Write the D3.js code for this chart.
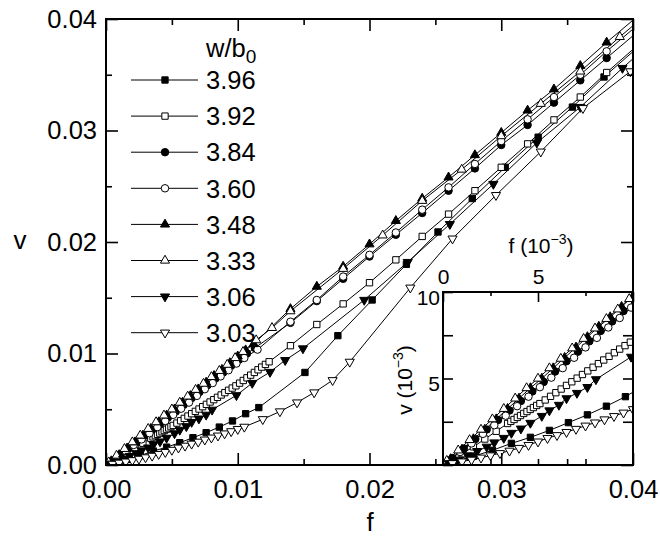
<!DOCTYPE html>
<html><head><meta charset="utf-8">
<script src="https://cdn.jsdelivr.net/npm/d3@7"></script>
<style>
body{margin:0;background:#fff}
text{font-family:"Liberation Sans",Arial,Helvetica,sans-serif;fill:#000}
</style>
</head><body>
<svg id="c" width="660" height="540"></svg>
<script>
// ---- data (f and v in units of 1e-3) ----
const legendTitle = "w/b";
const seriesNames = ["3.96","3.92","3.84","3.60","3.48","3.33","3.06","3.03"];

const f396 = [0.6,1.6,2.6,3.6,4.6,5.6,6.6,7.6,8.6,9.6,10.6,11.6,15.1,17.6,20.2,22.8,25.2,27.8,30.3,32.8,35.4,37.8,40.6];
const v396 = [0.2,0.5,0.85,1.25,1.6,2.0,2.45,2.9,3.4,3.95,4.6,5.15,8.3,11.6,14.8,18.0,20.9,23.9,26.7,29.4,32.1,34.8,37.7];

const f392 = [1.0,1.6,2.2,2.8,3.4,3.57,3.74,3.91,4.08,4.25,4.42,4.59,4.76,4.93,5.1,5.38,5.66,5.94,6.22,6.5,6.78,7.06,7.34,7.62,7.9,8.18,8.46,8.74,9.02,9.3,9.58,9.86,10.14,10.42,10.7,10.98,11.26,11.54,11.82,12.1,12.38,14,16,18,20,22,24,26,28,30,32,34,36,38,40.5];
const v392 = [0.65,1.05,1.5,1.95,2.4,2.52,2.63,2.75,2.86,2.98,3.09,3.21,3.32,3.44,3.55,3.76,3.97,4.18,4.39,4.6,4.81,5.02,5.23,5.44,5.65,5.86,6.07,6.28,6.49,6.7,6.9,7.1,7.34,7.58,7.82,8.06,8.3,8.54,8.78,9.02,9.26,10.7,12.6,14.45,16.35,18.4,20.5,22.5,24.6,26.7,28.8,30.95,33.0,35.2,37.8];

const f384 = [0.5,1.1,1.7,2.3,2.9,3.5,4.1,4.7,5.3,5.9,6.5,7.1,7.7,8.3,8.9,9.5,10.1,10.7,11.3,14,16,18,20,22,24,26,28,30,32,34,36,38,40.5];
const v384 = [0.4,0.95,1.5,2.05,2.6,3.15,3.7,4.25,4.8,5.4,6.0,6.55,7.15,7.75,8.3,8.9,9.45,10.0,10.5,12.75,14.7,16.7,18.7,20.65,22.6,24.6,26.6,28.7,30.5,32.5,34.5,36.5,39.0];

const f360 = [0.3,0.9,1.5,2.1,2.7,3.3,3.9,4.5,5.1,5.7,6.3,6.9,7.5,8.1,8.7,9.3,9.9,10.5,11.5,14,16,18,20,22,24,26,28,30,32,34,36,38,40.5];
const v360 = [0.25,0.75,1.25,1.8,2.3,2.85,3.4,3.95,4.5,5.05,5.6,6.2,6.8,7.35,7.95,8.5,9.1,9.6,10.35,12.85,14.8,16.9,18.85,20.85,22.9,24.9,27.0,29.05,31.0,33.0,35.0,37.1,39.6];

const f348 = [0.4,1.0,1.6,2.2,2.8,3.4,4.0,4.6,5.2,5.8,6.4,7.0,7.6,8.2,8.8,9.4,10.0,10.6,11.2,14,16,18,20,22,24,26,28,30,32,34,36,38,40.5];
const v348 = [0.35,0.9,1.5,2.05,2.65,3.25,3.85,4.45,5.0,5.6,6.2,6.8,7.4,8.0,8.55,9.15,9.75,10.3,10.85,14.0,16.0,17.8,19.8,21.9,23.9,25.8,27.8,29.8,31.8,33.7,35.8,37.9,40.4];

const f333 = [0.2,0.8,1.4,2.0,2.6,3.2,3.8,4.4,5.0,5.6,6.2,6.8,7.4,8.0,8.6,9.2,9.8,10.4,11.4,12.6,14,18,21,24,27,30,33,36,39,41.5];
const v333 = [0.25,0.85,1.45,2.05,2.65,3.25,3.85,4.45,5.0,5.6,6.15,6.75,7.3,7.9,8.45,9.0,9.6,10.15,11.2,12.3,13.8,17.6,20.6,23.7,26.5,29.5,32.4,35.3,38.4,40.9];

const f306 = [0.3,0.8,1.3,1.8,2.3,2.7,3.2,3.6,4.1,4.6,5.2,5.6,6.1,6.5,7.05,7.6,8.05,9.9,11.1,12.45,13.6,14.95,19.6,22.9,26.1,29.4,32.7,36.0,39.2,41.5];
const v306 = [0.1,0.3,0.55,0.8,1.05,1.3,1.56,1.85,2.1,2.43,2.83,3.15,3.47,3.85,4.16,4.5,4.95,6.25,7.35,8.34,9.4,10.45,14.8,18.2,21.6,25.2,28.9,32.1,35.6,38.0];

const f303 = [0.5,1.0,1.5,2.0,2.5,3.0,3.5,4.0,4.5,5.0,5.5,6.0,6.5,7.0,7.5,8.0,8.5,9.0,9.5,10.0,10.5,11.9,13.2,14.5,15.8,17.2,18.5,23.1,26.3,29.6,33.0,36.2,39.8,42];
const v303 = [0.1,0.2,0.3,0.42,0.55,0.68,0.82,0.98,1.15,1.35,1.55,1.72,1.9,2.08,2.27,2.45,2.63,2.82,3.02,3.22,3.42,4.1,4.8,5.6,6.5,7.6,9.25,15.9,20.3,24.2,28.1,32.0,35.3,37.4];

const xMajor = [0,0.01,0.02,0.03,0.04];
const xMinor = [0.005,0.015,0.025,0.035];
const yMajor = [0,0.01,0.02,0.03,0.04];
const yMinor = [0.005,0.015,0.025,0.035];
const insetMajor = [0,5,10];
const insetMinor = [2.5,7.5];
const insetXLabels = ["0","5",""];
const insetYLabels = ["","5","10"];

// ---- build ----
const fs = [f396,f392,f384,f360,f348,f333,f306,f303];
const vs = [v396,v392,v384,v360,v348,v333,v306,v303];
const shapes = [
  {t:d3.symbolSquare, s:40, fill:true, down:false},
  {t:d3.symbolSquare, s:40, fill:false, down:false},
  {t:d3.symbolCircle, s:44, fill:true, down:false},
  {t:d3.symbolCircle, s:44, fill:false, down:false},
  {t:d3.symbolTriangle, s:36, fill:true, down:false},
  {t:d3.symbolTriangle, s:36, fill:false, down:false},
  {t:d3.symbolTriangle, s:36, fill:true, down:true},
  {t:d3.symbolTriangle, s:36, fill:false, down:true}
];
const series = seriesNames.map((n,i)=>({name:n, pts:fs[i].map((f,j)=>[f/1000, vs[i][j]/1000]), sh:shapes[i]}));

const svg = d3.select("#c");
const L=106, R=633, T=19, B=465;
const x = d3.scaleLinear([0,0.04],[L,R]);
const y = d3.scaleLinear([0,0.04],[B,T]);
const IL=443, IT=292;
const xi = d3.scaleLinear([0,10],[IL,R]);
const yi = d3.scaleLinear([0,10],[B,IT]);

const defs = svg.append("defs");
defs.append("clipPath").attr("id","cm").append("rect").attr("x",L).attr("y",T).attr("width",R-L).attr("height",B-T);
defs.append("clipPath").attr("id","ci").append("rect").attr("x",IL).attr("y",IT).attr("width",R-IL).attr("height",B-IT);

function drawSym(g, sh, px, py){
  g.append("path").attr("d", d3.symbol().type(sh.t).size(sh.s)())
    .attr("transform", `translate(${px},${py})` + (sh.down? " rotate(180)":""))
    .attr("fill", sh.fill? "#000":"#fff").attr("stroke","#000").attr("stroke-width",1);
}
function drawSeries(g, sx, sy, toUnit){
  series.forEach(s=>{
    const line = d3.line().x(d=>sx(d[0]*toUnit)).y(d=>sy(d[1]*toUnit));
    g.append("path").attr("d", line(s.pts)).attr("fill","none").attr("stroke","#000").attr("stroke-width",1);
  });
  series.forEach(s=>{
    s.pts.forEach(d=>drawSym(g, s.sh, sx(d[0]*toUnit), sy(d[1]*toUnit)));
  });
}

// main data
const gm = svg.append("g").attr("clip-path","url(#cm)");
drawSeries(gm, x, y, 1);

// legend
const lg = svg.append("g");
const tt = lg.append("text").attr("x",206).attr("y",57).attr("font-size",25.5);
tt.append("tspan").text(legendTitle);
tt.append("tspan").attr("dy",6).attr("font-size",19).text("0");
series.forEach((s,i)=>{
  const yy = 80 + i*36.1;
  lg.append("line").attr("x1",131).attr("x2",198).attr("y1",yy).attr("y2",yy).attr("stroke","#000").attr("stroke-width",1);
  drawSym(lg, s.sh, 165, yy);
  lg.append("text").attr("x",206).attr("y",yy+9.2).attr("font-size",25.5).text(s.name);
});

function styleAxis(g, fsz){
  g.select(".domain").remove();
  g.selectAll(".tick line").attr("stroke","#000").attr("stroke-width",1.6);
  g.selectAll("text").attr("font-size",fsz).attr("font-family",'"Liberation Sans",Arial,sans-serif').attr("fill","#000");
}
// main left/top/right axes
const gl = svg.append("g").attr("transform",`translate(${L},0)`)
  .call(d3.axisLeft(y).tickValues(yMajor).tickSize(-12).tickPadding(9).tickFormat(d3.format(".2f")));
styleAxis(gl, 25.5);
styleAxis(svg.append("g").attr("transform",`translate(${L},0)`).call(d3.axisLeft(y).tickValues(yMinor).tickSize(-6).tickFormat("")), 0);
styleAxis(svg.append("g").attr("transform",`translate(0,${T})`).call(d3.axisTop(x).tickValues(xMajor).tickSize(-12).tickFormat("")), 0);
styleAxis(svg.append("g").attr("transform",`translate(0,${T})`).call(d3.axisTop(x).tickValues(xMinor).tickSize(-6).tickFormat("")), 0);
styleAxis(svg.append("g").attr("transform",`translate(${R},0)`).call(d3.axisRight(y).tickValues(yMajor).tickSize(-12).tickFormat("")), 0);
styleAxis(svg.append("g").attr("transform",`translate(${R},0)`).call(d3.axisRight(y).tickValues(yMinor).tickSize(-6).tickFormat("")), 0);

// inset
svg.append("rect").attr("x",IL+1).attr("y",IT+1).attr("width",R-IL-2).attr("height",B-IT-2).attr("fill","#fff");
const gi = svg.append("g").attr("clip-path","url(#ci)");
drawSeries(gi, xi, yi, 1000);
const git = svg.append("g").attr("transform",`translate(0,${IT})`)
  .call(d3.axisTop(xi).tickValues(insetMajor).tickSize(-10).tickPadding(8).tickFormat((d,i)=>insetXLabels[i]));
styleAxis(git, 21);
styleAxis(svg.append("g").attr("transform",`translate(0,${IT})`).call(d3.axisTop(xi).tickValues(insetMinor).tickSize(-4).tickFormat("")), 0);
const gil = svg.append("g").attr("transform",`translate(${IL},0)`)
  .call(d3.axisLeft(yi).tickValues([0,2.5,5,7.5,10]).tickSize(-10).tickPadding(3).tickFormat(d=>d===5?insetYLabels[1]:d===10?insetYLabels[2]:""));
styleAxis(gil, 21);
gil.selectAll("text").attr("dy","0.58em");
styleAxis(svg.append("g").attr("transform",`translate(${R},0)`).call(d3.axisRight(yi).tickValues([2.5,5,7.5]).tickSize(-10).tickFormat("")), 0);
styleAxis(svg.append("g").attr("transform",`translate(0,${B})`).call(d3.axisBottom(xi).tickValues([2.5,5,7.5]).tickSize(-6).tickFormat("")), 0);
svg.append("path").attr("d",`M${IL},${B}V${IT}H${R}`).attr("fill","none").attr("stroke","#000").attr("stroke-width",2);

// inset labels
const ft = svg.append("text").attr("x",541).attr("y",253).attr("text-anchor","middle").attr("font-size",21);
ft.append("tspan").text("f (10");
ft.append("tspan").attr("dy",-9).attr("font-size",14).text("\u22123");
ft.append("tspan").attr("dy",9).text(")");
const vt = svg.append("text").attr("transform","translate(412,380) rotate(-90)").attr("text-anchor","middle").attr("font-size",21);
vt.append("tspan").text("v (10");
vt.append("tspan").attr("dy",-9).attr("font-size",14).text("\u22123");
vt.append("tspan").attr("dy",9).text(")");

// main bottom axis (on top of inset)
const gb = svg.append("g").attr("transform",`translate(0,${B})`)
  .call(d3.axisBottom(x).tickValues(xMajor).tickSize(-12).tickPadding(15).tickFormat(d3.format(".2f")));
styleAxis(gb, 25.5);
styleAxis(svg.append("g").attr("transform",`translate(0,${B})`).call(d3.axisBottom(x).tickValues(xMinor).tickSize(-6).tickFormat("")), 0);

// frame
svg.append("rect").attr("x",L).attr("y",T).attr("width",R-L).attr("height",B-T).attr("fill","none").attr("stroke","#000").attr("stroke-width",2);

// axis titles
svg.append("text").attr("x",370).attr("y",531).attr("text-anchor","middle").attr("font-size",26).text("f");
svg.append("text").attr("x",20).attr("y",249).attr("text-anchor","middle").attr("font-size",26).text("v");
</script>
</body></html>
